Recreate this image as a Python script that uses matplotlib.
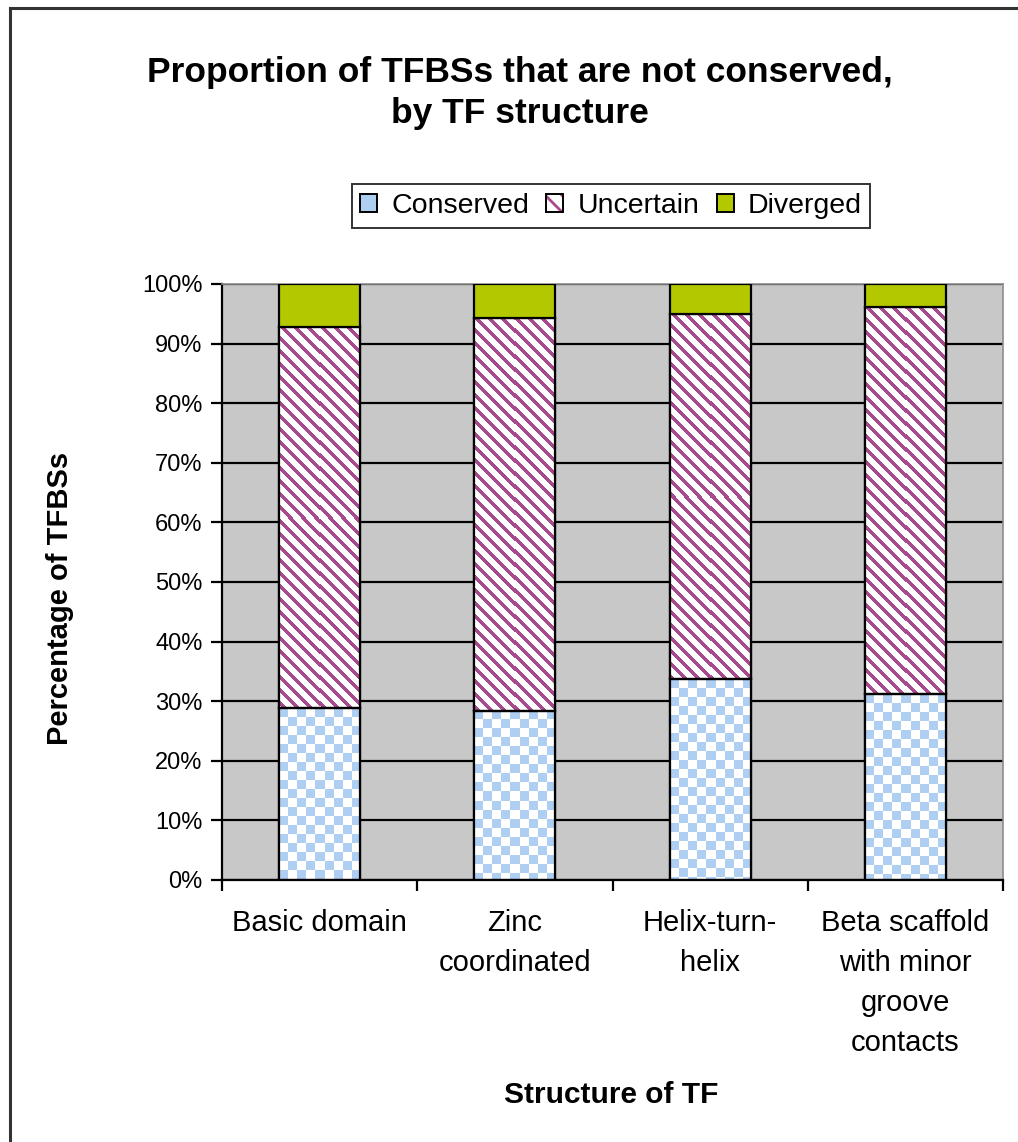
import numpy as np
import matplotlib
matplotlib.use('Agg')
import matplotlib.pyplot as plt
from matplotlib.patches import Patch
from matplotlib.lines import Line2D

# TF structure classes and the share of binding sites in each state (%)
categories = ['Basic domain', 'Zinc\ncoordinated', 'Helix-turn-\nhelix',
              'Beta scaffold\nwith minor\ngroove\ncontacts']
conserved = [28.8, 28.4, 33.7, 31.2]
uncertain = [64.0, 65.9, 61.3, 64.9]
diverged  = [7.2, 5.7, 5.0, 3.9]
series    = ['Conserved', 'Uncertain', 'Diverged']
yticks    = list(range(0, 101, 10))

BLUE   = '#aecff2'
PURPLE = '#a84a8e'
GREEN  = '#b4c800'
PLOTBG = '#c8c8c8'

plt.rcParams['font.family'] = ['Liberation Sans', 'DejaVu Sans']
plt.rcParams['hatch.linewidth'] = 2.0

W, H = 1018, 1142
fig = plt.figure(figsize=(W/100, H/100), dpi=100)
ax = fig.add_axes([222/W, 1-880/H, 781/W, 596/H])
ax.set_facecolor(PLOTBG)
ax.set_xlim(-0.5, len(categories)-0.5)
ax.set_ylim(0, 100)
ax.autoscale(False)

def pattern_fill(bar, kind):
	"""paint a pixel pattern inside a bar, clipped to it"""
	x0, y0 = bar.get_x(), bar.get_y()
	x1, y1 = x0+bar.get_width(), y0+bar.get_height()
	(px0, py0), (px1, py1) = ax.transData.transform([(x0, y0), (x1, y1)])
	w, h = max(int(round(px1-px0)), 1), max(int(round(py1-py0)), 1)
	jj, ii = np.meshgrid(np.arange(w), np.arange(h))
	if kind == 'check':
		on, col = ((ii//9 + jj//9) % 2 == 0), BLUE
	else:
		on, col = (((jj-ii) % 13) < 5), PURPLE
	rgb = np.ones((h, w, 3))
	rgb[on] = matplotlib.colors.to_rgb(col)
	im = ax.imshow(rgb, extent=(x0, x1, y0, y1), aspect='auto',
	               interpolation='nearest', zorder=2.5)
	im.set_clip_path(bar)

x = np.arange(len(categories))
bw = 0.415
bottom = np.zeros(len(categories))
for vals, kind, face in [(conserved, 'check', 'white'),
                         (uncertain, 'stripe', 'white'),
                         (diverged, None, GREEN)]:
	bars = ax.bar(x, vals, bw, bottom=bottom, color=face, edgecolor='black',
	              linewidth=1.6, zorder=3 if kind is None else 2)
	if kind:
		for b in bars:
			pattern_fill(b, kind)
			ax.bar(b.get_x()+b.get_width()/2, b.get_height(), bw, bottom=b.get_y(),
			       fill=False, edgecolor='black', linewidth=1.6, zorder=3)
	bottom += np.array(vals)

# grid and axes
ax.set_axisbelow(True)
ax.yaxis.grid(True, color='black', linewidth=1.6)
ax.set_yticks(yticks)
ax.set_yticklabels([f'{v}%' for v in yticks], fontsize=17)
ax.set_xticks(np.arange(len(categories)+1)-0.5)
ax.set_xticklabels([])
ax.set_xticks(x, minor=True)
ax.set_xticklabels(categories, minor=True, fontsize=21, linespacing=1.54)
ax.tick_params(axis='x', which='minor', length=0, pad=21)
ax.tick_params(axis='both', which='major', direction='out', length=8, width=1.6)
ax.tick_params(axis='y', pad=6)
for s in ['left', 'bottom']:
	ax.spines[s].set_linewidth(1.6)
for s in ['top', 'right']:
	ax.spines[s].set_color('#8c8c8c')
	ax.spines[s].set_linewidth(1.2)

fig.text(520/W, 1-93/H, 'Proportion of TFBSs that are not conserved,\nby TF structure',
         ha='center', va='center', fontsize=25.5, fontweight='bold', linespacing=1.3)
fig.text(60/W, 1-598/H, 'Percentage of TFBSs', rotation=90, ha='center', va='center',
         fontsize=21, fontweight='bold')
fig.text(611/W, 1-1095/H, 'Structure of TF', ha='center', va='center',
         fontsize=21.5, fontweight='bold')

# legend
outline = lambda: Patch(fill=False, edgecolor='black', linewidth=1.4)
handles = [(Patch(facecolor=BLUE, edgecolor='none'), outline()),
           (Patch(facecolor='white', edgecolor=PURPLE, hatch='\\\\', linewidth=0), outline()),
           (Patch(facecolor=GREEN, edgecolor='none'), outline())]
leg = fig.legend(handles, series, loc='center', bbox_to_anchor=(611/W, 1-206/H), ncol=3,
                 fontsize=20.5, frameon=True, fancybox=False, handlelength=0.6,
                 handleheight=0.6, handletextpad=0.5, columnspacing=0.6,
                 borderpad=0.3, borderaxespad=0)
leg.get_frame().set_edgecolor('black')
leg.get_frame().set_linewidth(1.4)

# chart area border
fig.add_artist(Line2D([9.5/W, 9.5/W], [0, 1-8/H], color='#333333', linewidth=2.2))
fig.add_artist(Line2D([9.5/W, 1], [1-8/H, 1-8/H], color='#333333', linewidth=2.2))

fig.savefig('out.png', dpi=100)
